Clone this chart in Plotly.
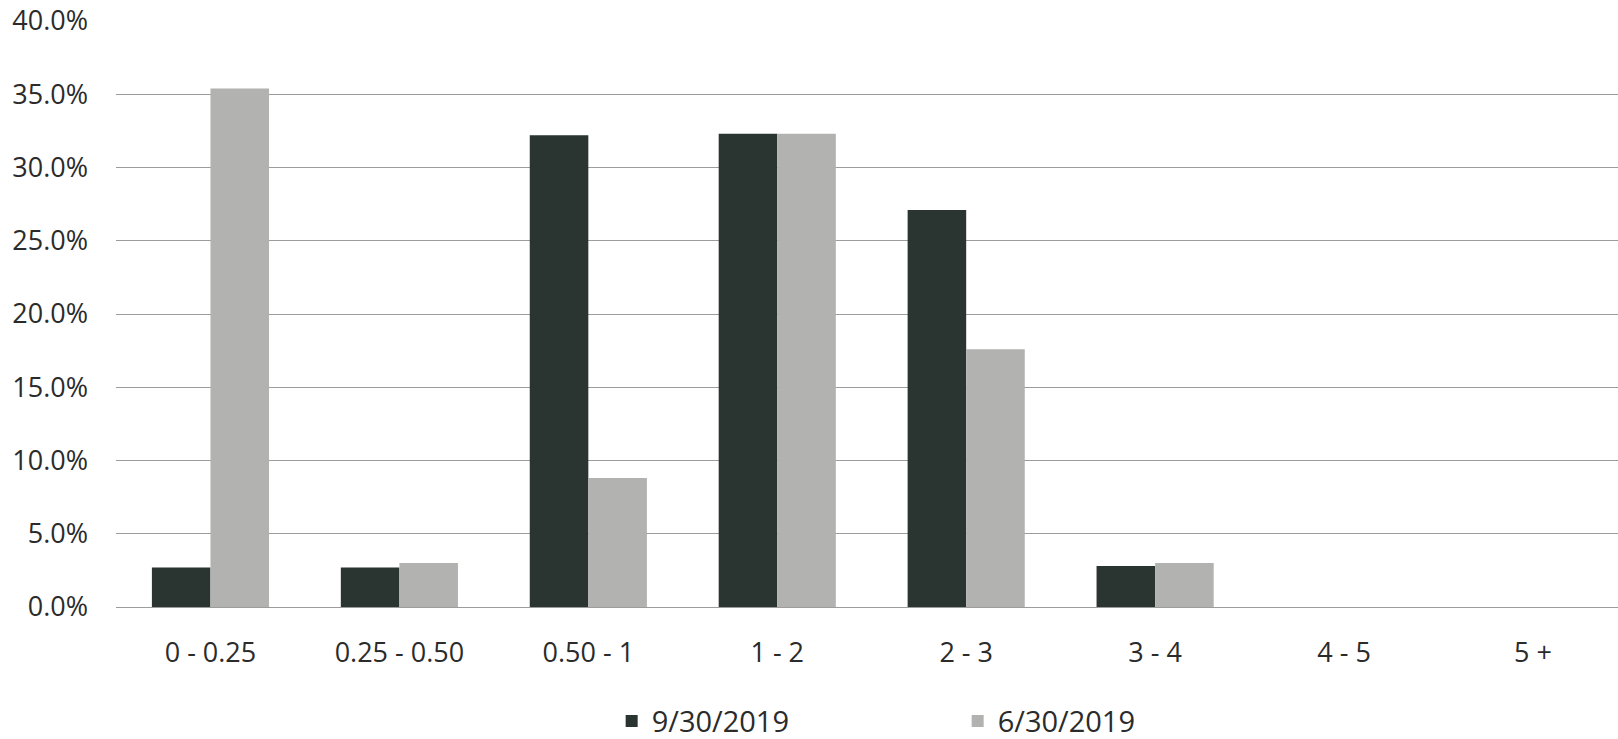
import plotly.graph_objects as go

categories = ["0 - 0.25", "0.25 - 0.50", "0.50 - 1", "1 - 2", "2 - 3", "3 - 4", "4 - 5", "5 +"]
series_sep = [2.7, 2.7, 32.2, 32.3, 27.1, 2.8, 0.0, 0.0]
series_jun = [35.4, 3.0, 8.8, 32.3, 17.6, 3.0, 0.0, 0.0]
series_names = ["9/30/2019", "6/30/2019"]
ytick_vals = [0, 5, 10, 15, 20, 25, 30, 35, 40]
ytick_text = ["0.0%", "5.0%", "10.0%", "15.0%", "20.0%", "25.0%", "30.0%", "35.0%", "40.0%"]

DARK = "#2a3431"
LIGHT = "#b2b2b0"
TEXT = "#2b2b2b"
GRID = "#9c9c9c"
FONT = "Open Sans"

fig = go.Figure()
fig.add_trace(go.Bar(x=categories, y=series_sep, name=series_names[0],
                     marker=dict(color=DARK, line=dict(width=0))))
fig.add_trace(go.Bar(x=categories, y=series_jun, name=series_names[1],
                     marker=dict(color=LIGHT, line=dict(width=0))))

fig.update_layout(
    width=1618, height=739,
    margin=dict(l=116, r=0, t=21, b=132, pad=0, autoexpand=False),
    paper_bgcolor="white", plot_bgcolor="white",
    barmode="group", bargap=0.38, bargroupgap=0,
    font=dict(family=FONT, size=27, color=TEXT),
    showlegend=True,
    legend=dict(orientation="h", x=0.330, xanchor="left",
                yref="container", y=0.024, yanchor="middle",
                font=dict(family=FONT, size=29, color=TEXT),
                entrywidth=301, entrywidthmode="pixels",
                bgcolor="rgba(0,0,0,0)", itemsizing="constant"),
    xaxis=dict(type="category", range=[-0.5, 7.45], showgrid=False,
               showline=False, zeroline=False, ticks="", automargin=False,
               ticklabelstandoff=27,
               tickfont=dict(family=FONT, size=27, color=TEXT)),
    yaxis=dict(range=[0, 40], tickvals=ytick_vals, ticktext=ytick_text,
               showgrid=True, gridcolor=GRID, gridwidth=1,
               zeroline=True, zerolinecolor=GRID, zerolinewidth=1,
               showline=False, ticks="", ticklabelstandoff=27, automargin=False,
               tickfont=dict(family=FONT, size=27, color=TEXT)),
)

fig.write_html("out.html")
